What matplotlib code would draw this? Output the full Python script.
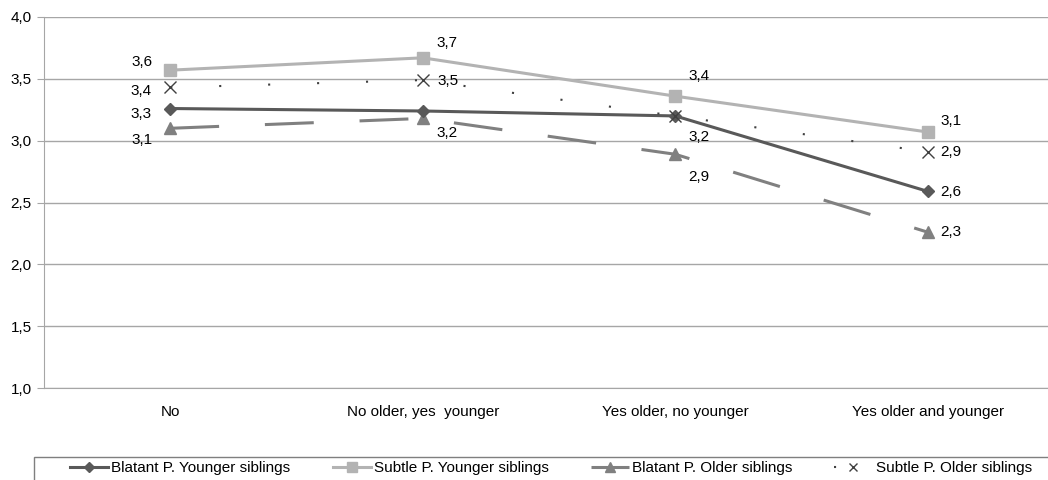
import matplotlib.pyplot as plt
from matplotlib.patches import Rectangle

plt.rcParams['font.family'] = ['Liberation Sans', 'DejaVu Sans']

# categories and values
categories = ['No', 'No older, yes  younger', 'Yes older, no younger', 'Yes older and younger']
blatant_younger = [3.26, 3.24, 3.20, 2.59]
subtle_younger = [3.57, 3.67, 3.36, 3.07]
blatant_older = [3.10, 3.18, 2.89, 2.26]
subtle_older = [3.43, 3.49, 3.20, 2.91]

# label offsets in pixels (None = no label shown)
off_by = [(-29, -5), None, (24, -21), (23, -1)]
off_sy = [(-28, 8), (24, 15), (24, 20), (23, 11)]
off_bo = [(-28, -12), (24, -15), (24, -23), (23, 0)]
off_so = [(-29, -4), (25, -1), None, (23, 0)]

fig = plt.figure(figsize=(10.48, 4.8), dpi=100)
ax = fig.add_axes([44/1048, 92/480, 1010/1048, 371/480])

x = range(len(categories))
l1, = ax.plot(x, blatant_younger, color='#595959', lw=2.2, marker='D', ms=6.5, zorder=4)
l2, = ax.plot(x, subtle_younger, color='#b3b3b3', lw=2.2, marker='s', ms=8.5, zorder=3)
l3, = ax.plot(x, blatant_older, color='#808080', lw=2.2, marker='^', ms=8.5,
              linestyle=(0, (16, 15)), zorder=3)
l4, = ax.plot(x, subtle_older, color='#404040', lw=1.5, marker='x', ms=8, mew=1.0,
              linestyle=(0, (1, 22.5)), zorder=5)

for vals, offs in [(blatant_younger, off_by), (subtle_younger, off_sy),
                   (blatant_older, off_bo), (subtle_older, off_so)]:
    for i, (v, o) in enumerate(zip(vals, offs)):
        if o is None:
            continue
        ax.annotate(f'{v:.1f}'.replace('.', ','), (i, v), xytext=o,
                    textcoords='offset pixels', ha='center', va='center', fontsize=11)

ax.set_xlim(-0.5, 3.5)
ax.set_ylim(1.0, 4.0)
ax.set_yticks([1.0, 1.5, 2.0, 2.5, 3.0, 3.5, 4.0])
ax.set_yticklabels([f'{t:.1f}'.replace('.', ',') for t in ax.get_yticks()], fontsize=11)
ax.set_xticks(list(x))
ax.set_xticklabels(categories, fontsize=11)
ax.yaxis.grid(True, color='#a6a6a6', lw=1)
ax.set_axisbelow(True)
ax.tick_params(axis='x', length=0, pad=12)
ax.tick_params(axis='y', length=5, color='#a6a6a6', pad=4)
for s in ['top', 'right']:
    ax.spines[s].set_visible(False)
ax.spines['left'].set_color('#a6a6a6')
ax.spines['bottom'].set_color('#a6a6a6')

fig.patches.append(Rectangle((34/1048, -0.1), 1.1, 23/480 + 0.1, transform=fig.transFigure,
                             fill=False, edgecolor='#7f7f7f', lw=1))
fig.legend([l1, l2, l3, l4],
           ['Blatant P. Younger siblings', 'Subtle P. Younger siblings',
            'Blatant P. Older siblings', 'Subtle P. Older siblings'],
           loc='center', bbox_to_anchor=(551/1048, 12/480), ncol=4, frameon=False,
           fontsize=11, handlelength=2.5, handletextpad=0.2, columnspacing=2.75,
           markerscale=0.8)

fig.savefig('out.png', dpi=100)
